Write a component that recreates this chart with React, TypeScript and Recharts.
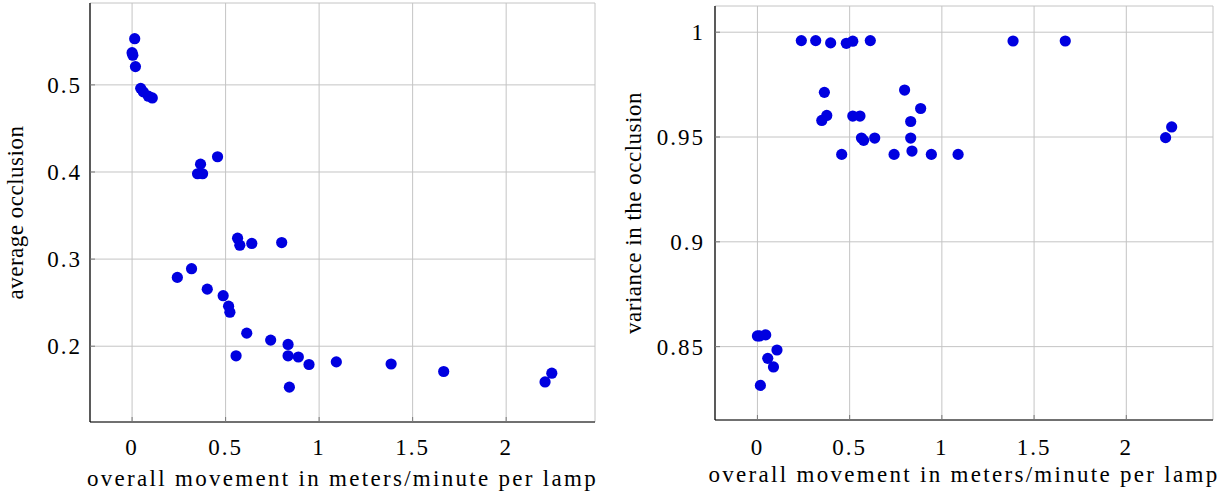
import React from 'react';
import {
  ScatterChart,
  Scatter,
  XAxis,
  YAxis,
  CartesianGrid,
} from 'recharts';

// left panel: movement vs average occlusion
const occX = [
  0.014, 0.0, 0.004, 0.018, 0.046, 0.06, 0.087, 0.108, 0.457, 0.366, 0.35, 0.377,
  0.564, 0.576, 0.64, 0.8, 0.242, 0.318, 0.402, 0.487, 0.516, 0.523, 0.613, 0.741,
  0.834, 0.556, 0.834, 0.889, 0.946, 0.841, 1.092, 1.385, 1.666, 2.244, 2.208,
];
const occY = [
  0.553, 0.537, 0.534, 0.521, 0.496, 0.492, 0.487, 0.485, 0.4175, 0.409, 0.398, 0.398,
  0.324, 0.316, 0.318, 0.319, 0.279, 0.289, 0.2655, 0.258, 0.246, 0.239, 0.215, 0.207,
  0.202, 0.189, 0.189, 0.1876, 0.179, 0.153, 0.182, 0.1796, 0.171, 0.169, 0.159,
];

// right panel: movement vs variance in the occlusion
const varX = [
  0.238, 0.316, 0.397, 0.482, 0.517, 0.612, 1.386, 1.669,
  0.363, 0.798, 0.885, 0.376, 0.349, 0.517, 0.556, 0.831, 0.564, 0.576, 0.636, 0.831,
  0.838, 0.457, 0.741, 0.943, 1.088, 2.246, 2.213,
  0.0, 0.012, 0.045, 0.106, 0.056, 0.087, 0.016,
];
const varY = [
  0.996, 0.996, 0.9949, 0.9947, 0.9957, 0.996, 0.9958, 0.9958,
  0.9713, 0.9724, 0.9636, 0.9603, 0.9579, 0.96, 0.96, 0.9574, 0.9495, 0.9484, 0.9495, 0.9495,
  0.9433, 0.9417, 0.9417, 0.9417, 0.9417, 0.9548, 0.9497,
  0.8551, 0.8551, 0.8556, 0.8484, 0.8444, 0.8403, 0.8315,
];

const xTicks = [0, 0.5, 1, 1.5, 2];
const occTicks = [0.2, 0.3, 0.4, 0.5];
const varTicks = [0.85, 0.9, 0.95, 1];

const xLabel = 'overall movement in meters/minute per lamp';

const FONT = '"Liberation Serif", "DejaVu Serif", serif';
const FS = 23;
const MARK = '#0000e0';
const GRID = '#c4c4c4';
const TICKLINE = { stroke: '#7a7a7a', strokeWidth: 1 };
const FRAME = { stroke: '#000', strokeWidth: 1.2 };

const dot = (p: any) => <circle cx={p.cx} cy={p.cy} r={5.6} fill={MARK} />;

interface PanelProps {
  data: { x: number; y: number }[];
  width: number;
  margin: { top: number; right: number; left: number; bottom: number };
  yAxisWidth: number;
  xAxisHeight: number;
  xDomain: [number, number];
  yDomain: [number, number];
  yTicks: number[];
  yLabel: string;
  xTickMargin: number;
  xLabelOffset: number;
  yLabelOffset: number;
  yTickMargin: number;
}

const Panel: React.FC<PanelProps> = (p) => {
  const tickStyle = { fontSize: FS, fill: '#000', fontFamily: FONT };
  return (
    <ScatterChart width={p.width} height={498} margin={p.margin}>
      <CartesianGrid stroke={GRID} strokeWidth={1} />
      <XAxis
        type="number"
        dataKey="x"
        domain={p.xDomain}
        ticks={xTicks}
        allowDataOverflow
        height={p.xAxisHeight}
        tickSize={-5}
        tickMargin={p.xTickMargin + 5}
        tickLine={TICKLINE}
        tick={tickStyle}
        axisLine={FRAME}
        label={{
          value: xLabel,
          position: 'insideBottom',
          offset: p.xLabelOffset,
          style: { fontSize: FS, fill: '#000', fontFamily: FONT, letterSpacing: '2.3px' },
        }}
      />
      <XAxis
        xAxisId="top"
        orientation="top"
        type="number"
        domain={p.xDomain}
        ticks={xTicks}
        allowDataOverflow
        height={0}
        tick={false}
        tickSize={-5}
        tickLine={TICKLINE}
        axisLine={FRAME}
      />
      <YAxis
        type="number"
        dataKey="y"
        domain={p.yDomain}
        ticks={p.yTicks}
        allowDataOverflow
        width={p.yAxisWidth}
        tickSize={-5}
        tickMargin={p.yTickMargin + 5}
        tickLine={TICKLINE}
        tick={tickStyle}
        axisLine={FRAME}
        label={{
          value: p.yLabel,
          angle: -90,
          position: 'insideLeft',
          offset: p.yLabelOffset,
          style: {
            fontSize: FS,
            fill: '#000',
            fontFamily: FONT,
            letterSpacing: '0.5px',
            textAnchor: 'middle',
          },
        }}
      />
      <YAxis
        yAxisId="right"
        orientation="right"
        type="number"
        domain={p.yDomain}
        ticks={p.yTicks}
        allowDataOverflow
        width={0}
        tick={false}
        tickSize={-5}
        tickLine={TICKLINE}
        axisLine={FRAME}
      />
      <Scatter data={p.data} shape={dot} isAnimationActive={false} />
    </ScatterChart>
  );
};

export default function App() {
  const occData = occX.map((x, i) => ({ x, y: occY[i] }));
  const varData = varX.map((x, i) => ({ x, y: varY[i] }));

  return (
    <div
      style={{
        position: 'absolute',
        left: 0,
        top: 0,
        width: 1225,
        height: 498,
        background: '#fff',
        fontFamily: FONT,
        letterSpacing: '2px',
      }}
    >
      <div style={{ position: 'absolute', left: 0, top: 0 }}>
        <Panel
          data={occData}
          width={610}
          margin={{ top: 3, right: 15, left: 0, bottom: 0 }}
          yAxisWidth={90}
          xAxisHeight={76}
          xDomain={[-0.225, 2.475]}
          yDomain={[0.113, 0.594]}
          yTicks={occTicks}
          yLabel="average occlusion"
          xTickMargin={17}
          xLabelOffset={12}
          yLabelOffset={15}
          yTickMargin={8}
        />
      </div>
      <div style={{ position: 'absolute', left: 620, top: 0 }}>
        <Panel
          data={varData}
          width={605}
          margin={{ top: 6, right: 12, left: 0, bottom: 0 }}
          yAxisWidth={95}
          xAxisHeight={78}
          xDomain={[-0.23, 2.47]}
          yDomain={[0.815, 1.0125]}
          yTicks={varTicks}
          yLabel="variance in the occlusion"
          xTickMargin={19}
          xLabelOffset={16}
          yLabelOffset={13}
          yTickMargin={10}
        />
      </div>
    </div>
  );
}
